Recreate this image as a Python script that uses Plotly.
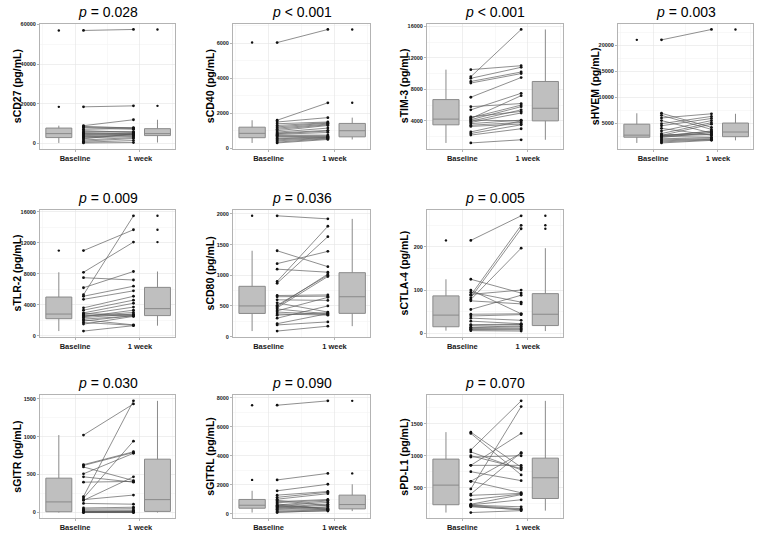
import numpy as np
import plotly.graph_objects as go

# ---------------- data ----------------
markers = ["sCD27", "sCD40", "sTIM-3", "sHVEM", "sTLR-2",
           "sCD80", "sCTLA-4", "sGITR", "sGITRL", "sPD-L1"]
p_labels = ["= 0.028", "< 0.001", "< 0.001", "= 0.003", "= 0.009",
            "= 0.036", "= 0.005", "= 0.030", "= 0.090", "= 0.070"]
time_labels = ["Baseline", "1 week"]
y_tick_step = [20000, 2000, 4000, 5000, 4000, 500, 100, 500, 2000, 500]

scd27_base = [57000, 18500, 9000, 8600, 8300, 8000, 7200, 6500, 6000, 5500, 5100,
              4900, 4500, 4000, 3600, 3300, 2900, 2400, 1800, 1200, 700, 300]
scd27_week = [57500, 19000, 12000, 7800, 8000, 7200, 7600, 5700, 6000, 4800, 5400,
              4500, 5100, 4600, 3900, 4300, 3500, 4900, 3000, 2500, 1500, 500]

scd40_base = [6050, 1600, 1500, 1400, 1300, 1220, 1150, 1080, 1000, 920, 870,
              830, 790, 740, 700, 660, 580, 540, 480, 420, 350, 300]
scd40_week = [6800, 2600, 1750, 1500, 1460, 1430, 1380, 1340, 1300, 1150, 1020,
              980, 900, 750, 700, 680, 640, 620, 600, 570, 540, 500]

stim3_base = [10500, 9600, 9400, 9000, 8800, 7000, 5800, 5400, 4500, 4400, 4300,
              4150, 4100, 3950, 3800, 3650, 3450, 3300, 2600, 2400, 2200, 1200]
stim3_week = [11000, 15600, 10800, 10200, 10000, 9500, 6200, 7500, 5200, 6000, 7200,
              5800, 4000, 5400, 5000, 4100, 3800, 3600, 4000, 3500, 3000, 1600]

shvem_base = [21000, 6900, 6500, 6000, 5500, 4900, 4500, 4000, 3500, 3000, 2750,
              2650, 2600, 2550, 2500, 2450, 2250, 2000, 1800, 1600, 1400, 1200]
shvem_week = [23000, 4200, 3800, 6800, 3100, 6300, 5900, 2700, 5500, 5100, 2900,
              4800, 3400, 2800, 3500, 2300, 3200, 2200, 2000, 1900, 1800, 1700]

stlr2_base = [11000, 8200, 7500, 6200, 5300, 5100, 4700, 3600, 3300, 2950, 2850,
              2750, 2650, 2550, 2450, 2350, 2150, 2050, 1900, 1700, 1500, 600]
stlr2_week = [13700, 12100, 7200, 8300, 15500, 6400, 5800, 5100, 4600, 4200, 2700,
              3700, 2600, 3000, 3300, 2800, 2550, 1400, 2600, 1350, 2500, 1300]

scd80_base = [1970, 1400, 1190, 1100, 900, 870, 670, 650, 600, 550, 510,
              490, 470, 450, 420, 400, 370, 350, 300, 210, 190, 90]
scd80_week = [1920, 1140, 1390, 1050, 1800, 1630, 680, 660, 590, 400, 1000,
              1020, 980, 370, 640, 360, 350, 390, 500, 375, 240, 170]

sctla4_base = [215, 125, 100, 95, 90, 88, 82, 78, 75, 55, 44,
               40, 35, 28, 20, 18, 14, 13, 11, 9, 8, 6]
sctla4_week = [272, 93, 45, 72, 100, 250, 242, 197, 68, 88, 45,
               43, 30, 22, 21, 20, 17, 15, 12, 10, 8, 5]

sgitr_base = [1020, 630, 620, 600, 510, 470, 400, 210, 190, 170, 160,
              120, 60, 45, 30, 12, 10, 9, 8, 5, 3, 0]
sgitr_week = [1430, 800, 790, 420, 780, 400, 410, 1470, 940, 230, 470,
              110, 70, 50, 30, 18, 14, 12, 10, 5, 3, 0]

sgitrl_base = [7500, 2350, 1600, 1300, 1150, 1020, 950, 850, 780, 700, 620,
               590, 560, 520, 480, 450, 380, 330, 280, 200, 150, 100]
sgitrl_week = [7800, 2800, 2050, 1550, 1500, 1400, 560, 1000, 950, 300, 900,
               380, 800, 420, 680, 340, 620, 500, 320, 280, 200, 250]

spdl1_base = [1370, 1350, 1090, 1060, 1000, 980, 850, 850, 750, 600, 600,
              480, 400, 380, 310, 240, 230, 225, 220, 210, 200, 110]
spdl1_week = [820, 700, 1860, 780, 800, 1000, 1350, 850, 610, 1040, 420,
              1770, 1050, 410, 400, 390, 310, 200, 170, 150, 160, 140]

baseline_values = [scd27_base, scd40_base, stim3_base, shvem_base, stlr2_base,
                   scd80_base, sctla4_base, sgitr_base, sgitrl_base, spdl1_base]
week_values = [scd27_week, scd40_week, stim3_week, shvem_week, stlr2_week,
               scd80_week, sctla4_week, sgitr_week, sgitrl_week, spdl1_week]

# ---------------- layout geometry ----------------
W, H = 758, 535
col_px = [(40, 175), (233, 370), (427, 563), (618, 753)]
row_px = [(22, 148), (210, 338), (397, 521)]
panel_cells = [(0, 0), (0, 1), (0, 2), (0, 3), (1, 0), (1, 1), (1, 2),
               (2, 0), (2, 1), (2, 2)]

X_BOX_BASE, X_PTS_BASE, X_PTS_WEEK, X_BOX_WEEK = 0.75, 1.13, 1.9, 2.27
X_RANGE = [0.46, 2.54]

FONT = "Liberation Sans, Arial, sans-serif"
BOX_FILL = "#bfbfbf"
BOX_LINE = "#8a8a8a"
BORDER = "#b3b3b3"
GRID = "#e4e4e4"
GRID_MINOR = "#f1f1f1"


def box_stats(v):
    v = np.asarray(v, float)
    q1, med, q3 = np.percentile(v, [25, 50, 75])
    iqr = q3 - q1
    lo, hi = q1 - 1.5 * iqr, q3 + 1.5 * iqr
    inside = v[(v >= lo) & (v <= hi)]
    out = v[(v < lo) | (v > hi)]
    return q1, med, q3, inside.min(), inside.max(), out


fig = go.Figure()
annotations = []
layout_axes = {}

for i, name in enumerate(markers):
    r, c = panel_cells[i]
    x0, x1 = col_px[c]
    y0, y1 = row_px[r]
    sfx = "" if i == 0 else str(i + 1)
    xa, ya = "x" + sfx, "y" + sfx
    base = baseline_values[i]
    week = week_values[i]

    # paired lines
    lx, ly = [], []
    for b, w in zip(base, week):
        lx += [X_PTS_BASE, X_PTS_WEEK, None]
        ly += [b, w, None]
    fig.add_trace(go.Scatter(x=lx, y=ly, mode="lines", xaxis=xa, yaxis=ya,
                             line=dict(color="#5f5f5f", width=0.7),
                             hoverinfo="skip", showlegend=False))
    fig.add_trace(go.Scatter(x=[X_PTS_BASE] * len(base) + [X_PTS_WEEK] * len(week),
                             y=list(base) + list(week), mode="markers",
                             xaxis=xa, yaxis=ya,
                             marker=dict(color="#111111", size=2.8),
                             showlegend=False))

    # boxes
    for xpos, vals in ((X_BOX_BASE, base), (X_BOX_WEEK, week)):
        q1, med, q3, lf, uf, out = box_stats(vals)
        fig.add_trace(go.Box(x=[xpos], q1=[q1], median=[med], q3=[q3],
                             lowerfence=[lf], upperfence=[uf], width=0.4,
                             fillcolor=BOX_FILL, line=dict(color=BOX_LINE, width=1),
                             whiskerwidth=0, boxpoints=False,
                             xaxis=xa, yaxis=ya, showlegend=False))
        if len(out):
            fig.add_trace(go.Scatter(x=[xpos] * len(out), y=out, mode="markers",
                                     xaxis=xa, yaxis=ya,
                                     marker=dict(color="#111111", size=2.4),
                                     showlegend=False))

    allv = np.array(list(base) + list(week), float)
    lo, hi = allv.min(), allv.max()
    span = hi - lo
    yr = [lo - 0.05 * span, hi + 0.05 * span]
    step = y_tick_step[i]

    layout_axes["xaxis" + sfx] = dict(
        domain=[x0 / W, x1 / W], anchor=ya, range=X_RANGE,
        tickmode="array", tickvals=[1, 2],
        ticktext=["<b>%s</b>" % t for t in time_labels],
        tickfont=dict(family=FONT, size=7.5, color="#1a1a1a"),
        showgrid=True, gridcolor=GRID, gridwidth=0.6,
        minor=dict(tickvals=[0.5, 1.5, 2.5], showgrid=True,
                   gridcolor=GRID_MINOR, gridwidth=0.5, ticklen=0),
        showline=True, mirror=True, linecolor=BORDER, linewidth=1,
        ticks="outside", ticklen=2, tickcolor=BORDER, zeroline=False)
    layout_axes["yaxis" + sfx] = dict(
        domain=[1 - y1 / H, 1 - y0 / H], anchor=xa, range=yr,
        tick0=0, dtick=step, tickformat="d",
        tickfont=dict(family=FONT, size=5.5, color="#1a1a1a", weight="bold"),
        showgrid=True, gridcolor=GRID, gridwidth=0.6,
        minor=dict(dtick=step / 2, tick0=0, showgrid=True,
                   gridcolor=GRID_MINOR, gridwidth=0.5, ticklen=0),
        showline=True, mirror=True, linecolor=BORDER, linewidth=1,
        ticks="outside", ticklen=2, tickcolor=BORDER, zeroline=False)

    # panel title
    annotations.append(dict(
        x=(x0 + x1) / 2 / W, y=1 - (y0 - 12) / H, xref="paper", yref="paper",
        text="<i>p</i> %s" % p_labels[i], showarrow=False,
        xanchor="center", yanchor="middle",
        font=dict(family=FONT, size=14, color="#000000")))
    # y-axis title
    annotations.append(dict(
        x=(x0 - 23) / W, y=1 - (y0 + y1) / 2 / H, xref="paper", yref="paper",
        text="<b>%s (pg/mL)</b>" % name, showarrow=False, textangle=-90,
        xanchor="center", yanchor="middle",
        font=dict(family=FONT, size=10.5, color="#000000")))

fig.update_layout(width=W, height=H, margin=dict(l=0, r=0, t=0, b=0),
                  paper_bgcolor="white", plot_bgcolor="white",
                  showlegend=False, annotations=annotations, **layout_axes)

fig.write_html("out.html",
               config={"displayModeBar": False, "staticPlot": True},
               post_script="document.body.style.margin='0px';"
                           "document.body.style.overflow='hidden';")
